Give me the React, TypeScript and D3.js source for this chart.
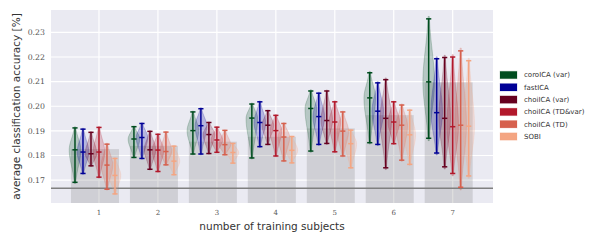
import React from "react";
import * as d3 from "d3";

const groups = [1, 2, 3, 4, 5, 6, 7];
const methods = ["coroICA (var)", "fastICA", "choiICA (var)", "choiICA (TD&var)", "choiICA (TD)", "SOBI"];
const methodColors = ["#004d1f", "#000096", "#67001f", "#b2182b", "#d6604d", "#f4a582"];

// gray baseline bars per group
const baselineBars = [0.1826, 0.1839, 0.1856, 0.1876, 0.191, 0.1964, 0.2097];
const chanceLevel = 0.1667;
const yTicks = [0.17, 0.18, 0.19, 0.2, 0.21, 0.22, 0.23];

// per method: min / mean / max per group
const coroVarMin = [0.1691, 0.1792, 0.1806, 0.179, 0.1818, 0.1852, 0.187];
const coroVarMean = [0.1823, 0.1867, 0.1901, 0.1952, 0.1991, 0.2034, 0.2099];
const coroVarMax = [0.1912, 0.1917, 0.1977, 0.2009, 0.2062, 0.2136, 0.2355];

const fastMin = [0.1727, 0.1788, 0.1806, 0.1836, 0.1845, 0.1845, 0.181];
const fastMean = [0.1814, 0.1873, 0.1921, 0.1934, 0.1958, 0.198, 0.1974];
const fastMax = [0.1907, 0.193, 0.199, 0.2018, 0.2053, 0.2095, 0.2193];

const choiVarMin = [0.1758, 0.1744, 0.1808, 0.1845, 0.1849, 0.175, 0.1754];
const choiVarMean = [0.1807, 0.1823, 0.1885, 0.1923, 0.1942, 0.1951, 0.1951];
const choiVarMax = [0.1894, 0.1898, 0.1934, 0.1982, 0.2062, 0.2108, 0.2198];

const choiTDVarMin = [0.1712, 0.1735, 0.1813, 0.1798, 0.1815, 0.1848, 0.1727];
const choiTDVarMean = [0.1814, 0.1822, 0.1863, 0.1901, 0.1936, 0.1936, 0.1917];
const choiTDVarMax = [0.1914, 0.1886, 0.1915, 0.1963, 0.2018, 0.2018, 0.22];

const choiTDMin = [0.1663, 0.1762, 0.1803, 0.1778, 0.1798, 0.1781, 0.1671];
const choiTDMean = [0.1761, 0.1816, 0.1844, 0.1875, 0.1899, 0.1923, 0.1923];
const choiTDMax = [0.1846, 0.1895, 0.1902, 0.193, 0.1977, 0.2005, 0.2225];

const sobiMin = [0.1644, 0.1722, 0.1769, 0.177, 0.175, 0.1764, 0.1717];
const sobiMean = [0.1719, 0.1777, 0.1812, 0.1821, 0.1848, 0.1884, 0.1919];
const sobiMax = [0.1788, 0.1838, 0.1849, 0.1877, 0.1903, 0.1984, 0.2185];

const seriesMin = [coroVarMin, fastMin, choiVarMin, choiTDVarMin, choiTDMin, sobiMin];
const seriesMean = [coroVarMean, fastMean, choiVarMean, choiTDVarMean, choiTDMean, sobiMean];
const seriesMax = [coroVarMax, fastMax, choiVarMax, choiTDVarMax, choiTDMax, sobiMax];

const W = 606, H = 242;
const plot = { left: 51, right: 493, top: 10, bottom: 203 };

export default function App() {
  const x = d3.scaleLinear().domain([0.186, 7.684]).range([plot.left, plot.right]);
  const y = d3.scaleLinear().domain([0.1607, 0.2391]).range([plot.bottom, plot.top]);
  const step = 0.1357; // spacing between methods in data units
  const violinHalf = 5.8;
  const capHalf = 2.6;

  const violinPath = (cx: number, lo: number, mid: number, hi: number) => {
    const n = 30;
    const pts: { v: number; w: number }[] = [];
    const ext = (hi - lo) * 0.02;
    const a = lo - ext, b = hi + ext;
    for (let k = 0; k <= n; k++) {
      const v = a + ((b - a) * k) / n;
      const s = v < mid ? (mid - a) / 2.1 : (b - mid) / 2.1;
      const z = (v - mid) / s;
      const w = Math.exp(-0.5 * z * z);
      pts.push({ v, w });
    }
    const area = d3
      .area<{ v: number; w: number }>()
      .y((d) => y(d.v))
      .x0((d) => cx - violinHalf * d.w)
      .x1((d) => cx + violinHalf * d.w)
      .curve(d3.curveBasis);
    return area(pts) || "";
  };

  return (
    <svg width={W} height={H} style={{ position: "absolute", left: 0, top: 0, background: "#fff" }}>
      <rect x={plot.left} y={plot.top} width={plot.right - plot.left} height={plot.bottom - plot.top} fill="#eaeaf2" />
      {yTicks.map((t) => (
        <line key={"gy" + t} x1={plot.left} x2={plot.right} y1={y(t)} y2={y(t)} stroke="#fff" strokeWidth={1.2} />
      ))}
      {groups.map((g) => (
        <line key={"gx" + g} x1={x(g)} x2={x(g)} y1={plot.top} y2={plot.bottom} stroke="#fff" strokeWidth={1.2} />
      ))}
      {groups.map((g, i) => (
        <rect
          key={"bar" + g}
          x={x(g - 3.5 * step)}
          width={x(g + 2.5 * step) - x(g - 3.5 * step)}
          y={y(baselineBars[i])}
          height={plot.bottom - y(baselineBars[i])}
          fill="#7f7f7f"
          fillOpacity={0.25}
        />
      ))}
      <line x1={plot.left} x2={plot.right} y1={y(chanceLevel)} y2={y(chanceLevel)} stroke="#808080" strokeWidth={1.5} />
      {groups.map((g, i) =>
        methods.map((m, j) => {
          const cx = x(g + (j - 3) * step);
          return (
            <path
              key={"v" + g + m}
              d={violinPath(cx, seriesMin[j][i], seriesMean[j][i], seriesMax[j][i])}
              fill={methodColors[j]}
              fillOpacity={0.22}
              stroke={methodColors[j]}
              strokeOpacity={0.25}
              strokeWidth={0.8}
            />
          );
        })
      )}
      {groups.map((g, i) =>
        methods.map((m, j) => {
          const cx = x(g + (j - 3) * step);
          const c = methodColors[j];
          const lo = y(seriesMin[j][i]), mid = y(seriesMean[j][i]), hi = y(seriesMax[j][i]);
          return (
            <g key={"e" + g + m} stroke={c} strokeWidth={1.5}>
              <line x1={cx} x2={cx} y1={hi} y2={lo} />
              <line x1={cx - capHalf} x2={cx + capHalf} y1={hi} y2={hi} />
              <line x1={cx - capHalf} x2={cx + capHalf} y1={lo} y2={lo} />
              <line x1={cx - capHalf} x2={cx + capHalf} y1={mid} y2={mid} />
            </g>
          );
        })
      )}
      {yTicks.map((t) => (
        <text key={"ty" + t} x={45} y={y(t)} dy="0.35em" textAnchor="end" fontFamily="'DejaVu Serif', serif" fontSize={7.8} fill="#555">
          {d3.format(".2f")(t)}
        </text>
      ))}
      {groups.map((g) => (
        <text key={"tx" + g} x={x(g)} y={214.5} textAnchor="middle" fontFamily="'DejaVu Serif', serif" fontSize={7} fill="#555">
          {g}
        </text>
      ))}
      <text
        transform={`translate(19.5,${(plot.top + plot.bottom) / 2}) rotate(-90)`}
        textAnchor="middle"
        fontFamily="'DejaVu Sans', sans-serif"
        fontSize={10.5}
        fill="#333"
      >
        average classification accuracy [%]
      </text>
      <text x={(plot.left + plot.right) / 2} y={229.5} textAnchor="middle" fontFamily="'DejaVu Sans', sans-serif" fontSize={10.5} fill="#333">
        number of training subjects
      </text>
      {methods.map((m, j) => (
        <g key={"lg" + m} transform={`translate(500,${75 + j * 12.3})`}>
          <rect x={0} y={-3.7} width={17} height={7.4} fill={methodColors[j]} stroke={methodColors[j]} strokeOpacity={0.2} strokeWidth={1} />
          <text x={24} y={0} dy="0.35em" fontFamily="'DejaVu Sans', sans-serif" fontSize={7} fill="#333">
            {m}
          </text>
        </g>
      ))}
    </svg>
  );
}
